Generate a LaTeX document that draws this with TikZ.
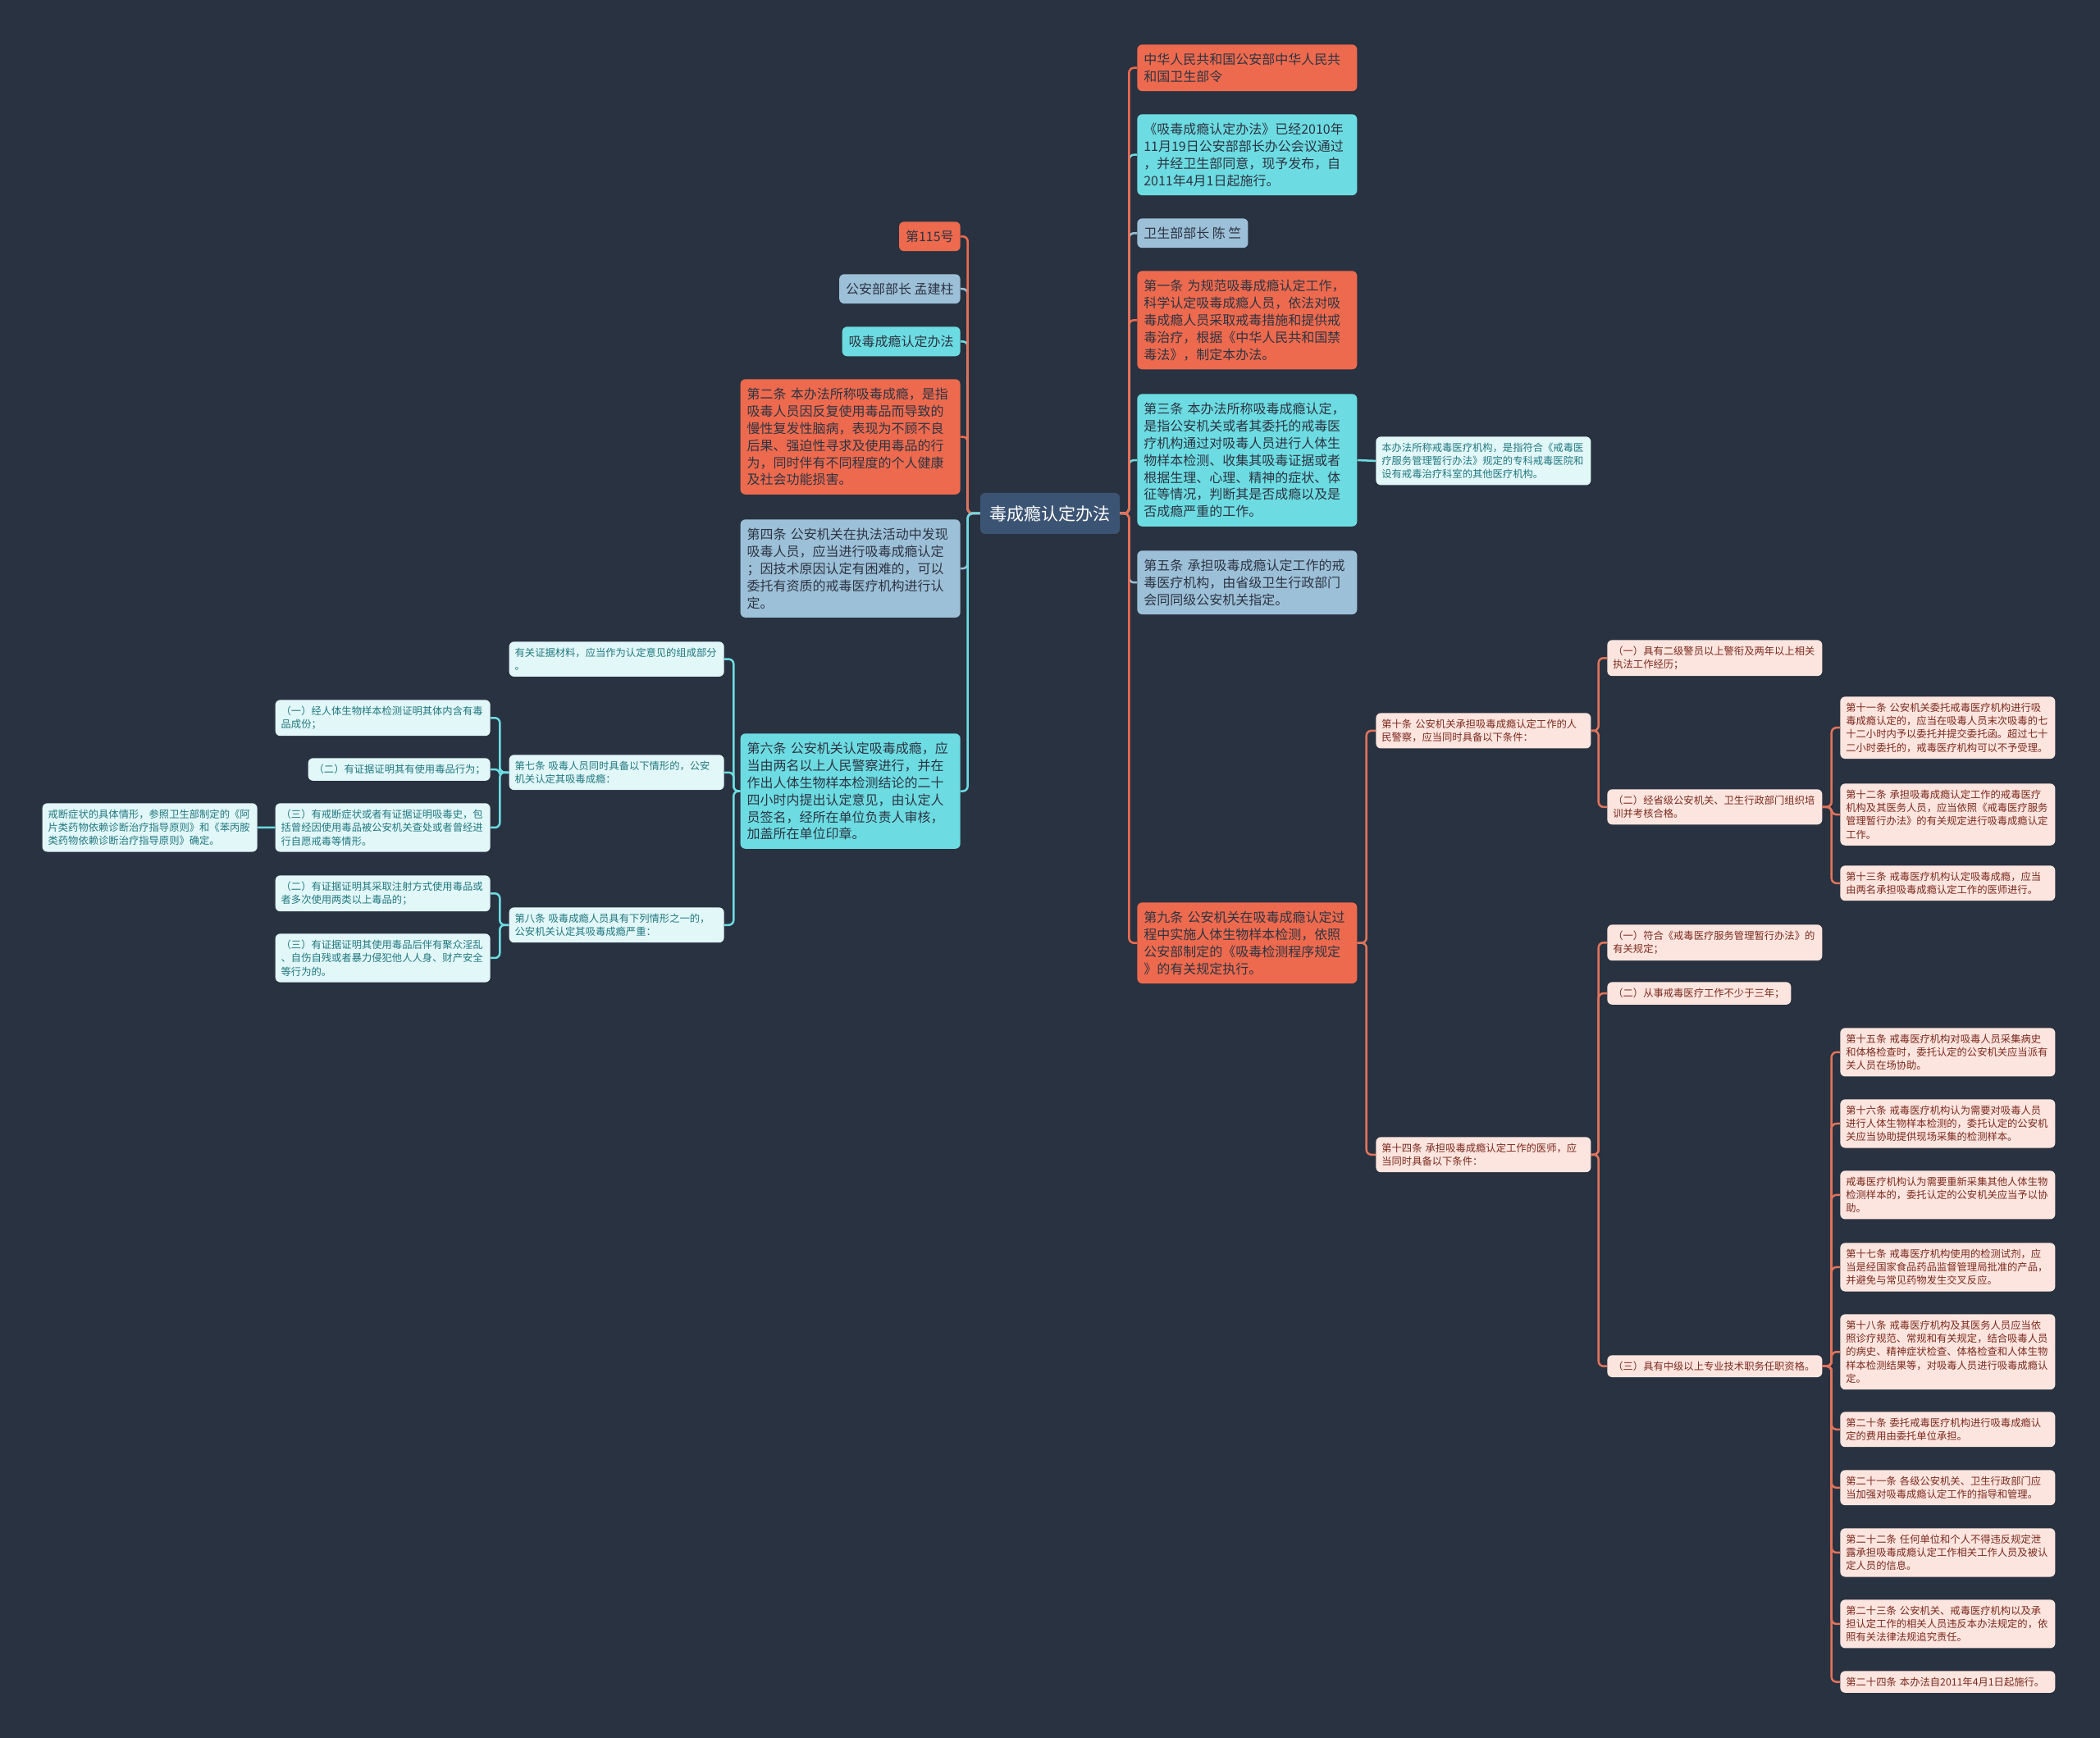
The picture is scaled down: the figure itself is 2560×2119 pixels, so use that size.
\documentclass[tikz,border=0pt]{standalone}
\usepackage{fontspec}
\newfontfamily\cjk{Noto Sans CJK SC}
\definecolor{xdBack}{RGB}{41,50,64}
\definecolor{xdRoot}{RGB}{60,84,116}
\definecolor{xdOrange}{RGB}{238,106,78}
\definecolor{xdCyan}{RGB}{108,220,226}
\definecolor{xdSteel}{RGB}{156,192,216}
\definecolor{xdInk}{RGB}{45,52,66}
\definecolor{xdMint}{RGB}{226,247,248}
\definecolor{xdMintInk}{RGB}{33,120,128}
\definecolor{xdPeach}{RGB}{253,229,223}
\definecolor{xdPeachInk}{RGB}{122,42,30}
\definecolor{xdRust}{RGB}{224,116,92}

\begin{document}
\begin{tikzpicture}[
  x=0.2mm, y=-0.2mm,
  topic/.style={
    rounded corners=1.2mm,
    anchor=north west,
    align=left,
    font=\cjk\fontsize{9.1}{11.9}\selectfont,
    text=xdInk,
    inner xsep=1.6mm,
    inner ysep=2.1mm
  },
  article/.style={topic, text width=50.4mm},
  leaf/.style={
    rounded corners=1.2mm,
    anchor=north west,
    align=left,
    font=\cjk\fontsize{7}{9.3}\selectfont,
    inner xsep=1.4mm,
    inner ysep=1.5mm,
    text width=49.6mm
  },
  mint/.style={leaf, fill=xdMint, text=xdMintInk},
  peach/.style={leaf, fill=xdPeach, text=xdPeachInk},
  link/.style={line width=0.5mm, rounded corners=1.2mm}
]
  \useasboundingbox (0,0) rectangle (2560,2119);
  \fill[xdBack] (0,0) rectangle (2560,2119);

  \node[rounded corners=1.2mm, fill=xdRoot, text=white,
    font=\cjk\fontsize{12}{14}\selectfont,
    minimum width=34mm, minimum height=10mm] (root) at (1280,626) {毒成瘾认定办法};

  % right side
  \node[article, fill=xdOrange] (decree) at (1386,54) {中华人民共和国公安部中华人民共\\和国卫生部令};
  \node[article, fill=xdCyan] (announce) at (1386,139) {《吸毒成瘾认定办法》已经2010年\\11月19日公安部部长办公会议通过\\，并经卫生部同意，现予发布，自\\2011年4月1日起施行。};
  \node[topic, fill=xdSteel] (chenzhu) at (1386,266) {卫生部部长~陈~竺};
  \node[article, fill=xdOrange] (art1) at (1386,330) {第一条~为规范吸毒成瘾认定工作，\\科学认定吸毒成瘾人员，依法对吸\\毒成瘾人员采取戒毒措施和提供戒\\毒治疗，根据《中华人民共和国禁\\毒法》，制定本办法。};
  \node[article, fill=xdCyan] (art3) at (1386,480) {第三条~本办法所称吸毒成瘾认定，\\是指公安机关或者其委托的戒毒医\\疗机构通过对吸毒人员进行人体生\\物样本检测、收集其吸毒证据或者\\根据生理、心理、精神的症状、体\\征等情况，判断其是否成瘾以及是\\否成瘾严重的工作。};
  \node[article, fill=xdSteel] (art5) at (1386,671) {第五条~承担吸毒成瘾认定工作的戒\\毒医疗机构，由省级卫生行政部门\\会同同级公安机关指定。};
  \node[article, fill=xdOrange] (art9) at (1386,1100) {第九条~公安机关在吸毒成瘾认定过\\程中实施人体生物样本检测，依照\\公安部制定的《吸毒检测程序规定\\》的有关规定执行。};

  \node[mint] (medinst) at (1677,532) {本办法所称戒毒医疗机构，是指符合《戒毒医\\疗服务管理暂行办法》规定的专科戒毒医院和\\设有戒毒治疗科室的其他医疗机构。};

  \node[peach] (art10) at (1677,869) {第十条~公安机关承担吸毒成瘾认定工作的人\\民警察，应当同时具备以下条件：};
  \node[peach] (art14) at (1677,1386) {第十四条~承担吸毒成瘾认定工作的医师，应\\当同时具备以下条件：};

  \node[peach] (police1) at (1959,780) {（一）具有二级警员以上警衔及两年以上相关\\执法工作经历；};
  \node[peach] (police2) at (1959,962) {（二）经省级公安机关、卫生行政部门组织培\\训并考核合格。};
  \node[peach] (art11) at (2243,849) {第十一条~公安机关委托戒毒医疗机构进行吸\\毒成瘾认定的，应当在吸毒人员末次吸毒的七\\十二小时内予以委托并提交委托函。超过七十\\二小时委托的，戒毒医疗机构可以不予受理。};
  \node[peach] (art12) at (2243,955) {第十二条~承担吸毒成瘾认定工作的戒毒医疗\\机构及其医务人员，应当依照《戒毒医疗服务\\管理暂行办法》的有关规定进行吸毒成瘾认定\\工作。};
  \node[peach] (art13) at (2243,1055) {第十三条~戒毒医疗机构认定吸毒成瘾，应当\\由两名承担吸毒成瘾认定工作的医师进行。};

  \node[peach] (doctor1) at (1959,1127) {（一）符合《戒毒医疗服务管理暂行办法》的\\有关规定；};
  \node[peach, text width=42mm] (doctor2) at (1959,1197) {（二）从事戒毒医疗工作不少于三年；};
  \node[peach] (doctor3) at (1959,1652) {（三）具有中级以上专业技术职务任职资格。};

  \node[peach] (art15) at (2243,1253) {第十五条~戒毒医疗机构对吸毒人员采集病史\\和体格检查时，委托认定的公安机关应当派有\\关人员在场协助。};
  \node[peach] (art16) at (2243,1340) {第十六条~戒毒医疗机构认为需要对吸毒人员\\进行人体生物样本检测的，委托认定的公安机\\关应当协助提供现场采集的检测样本。};
  \node[peach] (resample) at (2243,1427) {戒毒医疗机构认为需要重新采集其他人体生物\\检测样本的，委托认定的公安机关应当予以协\\助。};
  \node[peach] (art17) at (2243,1515) {第十七条~戒毒医疗机构使用的检测试剂，应\\当是经国家食品药品监督管理局批准的产品，\\并避免与常见药物发生交叉反应。};
  \node[peach] (art18) at (2243,1602) {第十八条~戒毒医疗机构及其医务人员应当依\\照诊疗规范、常规和有关规定，结合吸毒人员\\的病史、精神症状检查、体格检查和人体生物\\样本检测结果等，对吸毒人员进行吸毒成瘾认\\定。};
  \node[peach] (art20) at (2243,1721) {第二十条~委托戒毒医疗机构进行吸毒成瘾认\\定的费用由委托单位承担。};
  \node[peach] (art21) at (2243,1792) {第二十一条~各级公安机关、卫生行政部门应\\当加强对吸毒成瘾认定工作的指导和管理。};
  \node[peach] (art22) at (2243,1863) {第二十二条~任何单位和个人不得违反规定泄\\露承担吸毒成瘾认定工作相关工作人员及被认\\定人员的信息。};
  \node[peach] (art23) at (2243,1950) {第二十三条~公安机关、戒毒医疗机构以及承\\担认定工作的相关人员违反本办法规定的，依\\照有关法律法规追究责任。};
  \node[peach] (art24) at (2243,2037) {第二十四条~本办法自2011年4月1日起施行。};

  % left side
  \node[topic, anchor=north east, fill=xdOrange] (no115) at (1171,270) {第115号};
  \node[topic, anchor=north east, fill=xdSteel] (meng) at (1171,334) {公安部部长~孟建柱};
  \node[topic, anchor=north east, fill=xdCyan] (title) at (1171,398) {吸毒成瘾认定办法};
  \node[article, anchor=north east, fill=xdOrange] (art2) at (1171,462) {第二条~本办法所称吸毒成瘾，是指\\吸毒人员因反复使用毒品而导致的\\慢性复发性脑病，表现为不顾不良\\后果、强迫性寻求及使用毒品的行\\为，同时伴有不同程度的个人健康\\及社会功能损害。};
  \node[article, anchor=north east, fill=xdSteel] (art4) at (1171,633) {第四条~公安机关在执法活动中发现\\吸毒人员，应当进行吸毒成瘾认定\\；因技术原因认定有困难的，可以\\委托有资质的戒毒医疗机构进行认\\定。};
  \node[article, anchor=north east, fill=xdCyan] (art6) at (1171,894) {第六条~公安机关认定吸毒成瘾，应\\当由两名以上人民警察进行，并在\\作出人体生物样本检测结论的二十\\四小时内提出认定意见，由认定人\\员签名，经所在单位负责人审核，\\加盖所在单位印章。};

  \node[mint, anchor=north east] (evidence) at (883,782) {有关证据材料，应当作为认定意见的组成部分\\。};
  \node[mint, anchor=north east] (art7) at (883,920) {第七条~吸毒人员同时具备以下情形的，公安\\机关认定其吸毒成瘾：};
  \node[mint, anchor=north east] (art8) at (883,1106) {第八条~吸毒成瘾人员具有下列情形之一的，\\公安机关认定其吸毒成瘾严重：};

  \node[mint, anchor=north east] (cond1) at (598,853) {（一）经人体生物样本检测证明其体内含有毒\\品成份；};
  \node[mint, anchor=north east, text width=41.6mm] (cond2) at (598,924) {（二）有证据证明其有使用毒品行为；};
  \node[mint, anchor=north east] (cond3) at (598,979) {（三）有戒断症状或者有证据证明吸毒史，包\\括曾经因使用毒品被公安机关查处或者曾经进\\行自愿戒毒等情形。};
  \node[mint, anchor=north east] (withdraw) at (314,979) {戒断症状的具体情形，参照卫生部制定的《阿\\片类药物依赖诊断治疗指导原则》和《苯丙胺\\类药物依赖诊断治疗指导原则》确定。};
  \node[mint, anchor=north east] (severe2) at (598,1067) {（二）有证据证明其采取注射方式使用毒品或\\者多次使用两类以上毒品的；};
  \node[mint, anchor=north east] (severe3) at (598,1138) {（三）有证据证明其使用毒品后伴有聚众淫乱\\、自伤自残或者暴力侵犯他人人身、财产安全\\等行为的。};

  % connectors
  \foreach \n/\c in {art3/xdCyan, art1/xdOrange, chenzhu/xdSteel, announce/xdCyan, decree/xdOrange, art5/xdSteel, art9/xdOrange}
    \draw[link, \c] (root.east) -- ++(11,0) |- (\n.west);
  \foreach \n/\c in {art2/xdOrange, title/xdCyan, meng/xdSteel, no115/xdOrange, art4/xdSteel, art6/xdCyan}
    \draw[link, \c] (root.west) -- ++(-15,0) |- (\n.east);

  \draw[link, xdCyan] (art3.east) -- (medinst.west);
  \foreach \n in {art10, art14}
    \draw[link, xdRust] (art9.east) -- ++(11,0) |- (\n.west);
  \foreach \n in {police1, police2}
    \draw[link, xdRust] (art10.east) -- ++(9,0) |- (\n.west);
  \foreach \n in {art11, art12, art13}
    \draw[link, xdRust] (police2.east) -- ++(11,0) |- (\n.west);
  \foreach \n in {doctor1, doctor2, doctor3}
    \draw[link, xdRust] (art14.east) -- ++(9,0) |- (\n.west);
  \foreach \n in {art15, art16, resample, art17, art18, art20, art21, art22, art23, art24}
    \draw[link, xdRust] (doctor3.east) -- ++(11,0) |- (\n.west);

  \foreach \n in {evidence, art7, art8}
    \draw[link, xdCyan] (art6.west) -- ++(-8,0) |- (\n.east);
  \foreach \n in {cond1, cond2, cond3}
    \draw[link, xdCyan] (art7.west) -- ++(-11,0) |- (\n.east);
  \foreach \n in {severe2, severe3}
    \draw[link, xdCyan] (art8.west) -- ++(-11,0) |- (\n.east);
  \draw[link, xdCyan] (cond3.west) -- (withdraw.east);
\end{tikzpicture}
\end{document}
